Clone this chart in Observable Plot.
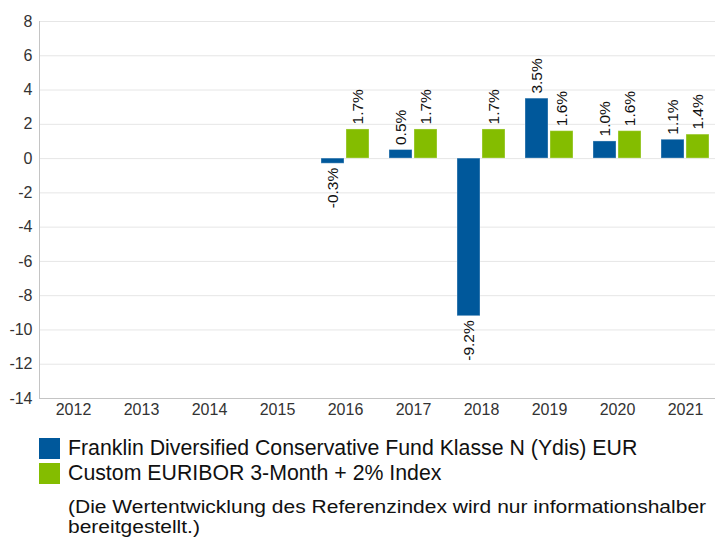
<!DOCTYPE html>
<html>
<head>
<meta charset="utf-8">
<script src="https://cdn.jsdelivr.net/npm/d3@7"></script>
<script src="https://cdn.jsdelivr.net/npm/@observablehq/plot@0.6"></script>
<style>
  html, body { margin: 0; padding: 0; background: #fff; overflow: hidden; }
  body { font-family: "Liberation Sans", Arial, sans-serif; width: 715px; height: 538px; position: relative; }
  #chart svg { display: block; }
  .legend { margin-left: 39px; padding-top: 8px; }
  .legend .item { display: flex; align-items: center; height: 25px; font-size: 21.3px; color: #111; white-space: nowrap; }
  .legend .sw { width: 21px; height: 21px; margin-right: 8px; flex: none; }
  .caption { margin-left: 68px; margin-top: 11px; font-size: 17.5px; line-height: 20px; color: #111; white-space: nowrap;
             transform: scaleX(1.2); transform-origin: 0 0; }
</style>
</head>
<body>
<div id="chart"></div>
<div class="legend" id="legend"></div>
<div class="caption" id="caption"></div>
<script>
const years = [2012, 2013, 2014, 2015, 2016, 2017, 2018, 2019, 2020, 2021];
const seriesNames = [
  "Franklin Diversified Conservative Fund Klasse N (Ydis) EUR",
  "Custom EURIBOR 3-Month + 2% Index"
];
const fundReturns  = [null, null, null, null, -0.3, 0.5, -9.2, 3.5, 1.0, 1.1];
const indexReturns = [null, null, null, null, 1.7, 1.7, 1.7, 1.6, 1.6, 1.4];
const seriesColors = ["#00589b", "#84bd00"];
const yTicks = [-14, -12, -10, -8, -6, -4, -2, 0, 2, 4, 6, 8];
const captionLines = [
  "(Die Wertentwicklung des Referenzindex wird nur informationshalber",
  "bereitgestellt.)"
];

const rows = [];
years.forEach((yr, i) => {
  [fundReturns, indexReturns].forEach((arr, s) => {
    rows.push({year: yr, series: seriesNames[s], value: arr[i]});
  });
});
const valid = rows.filter(d => d.value != null);
const fmt = d => d.value.toFixed(1) + "%";

const plot = Plot.plot({
  width: 715,
  height: 428,
  marginLeft: 38,
  marginRight: -4,
  marginTop: 21,
  marginBottom: 30,
  style: {fontFamily: '"Liberation Sans", Arial, sans-serif', fontSize: "16px", color: "#333", background: "#fff"},
  fx: {domain: years, padding: 0, label: null, tickSize: 0, tickPadding: 5, axis: "bottom", tickFormat: d => String(d)},
  x: {domain: seriesNames, axis: null, paddingInner: 0.08, paddingOuter: 0.4},
  y: {domain: [-14, 8], ticks: yTicks, label: null, tickSize: 0, tickPadding: 7, tickFormat: d => String(d)},
  color: {domain: seriesNames, range: seriesColors},
  marks: [
    Plot.gridY(yTicks, {stroke: "#e6e6e6", strokeOpacity: 1}),
    Plot.ruleY([-14], {stroke: "#c4c4c4"}),
    Plot.frame({anchor: "left", stroke: "#c4c4c4", facetAnchor: "left"}),
    Plot.barY(rows, {fx: "year", x: "series", y: "value", fill: "series", stroke: "#ffffff", strokeOpacity: 0.35, strokeWidth: 1}),
    Plot.text(valid.filter(d => d.value >= 0), {fx: "year", x: "series", y: "value", text: fmt, rotate: -90, textAnchor: "start", dy: -5, fontSize: 15.5, fill: "#111"}),
    Plot.text(valid.filter(d => d.value < 0), {fx: "year", x: "series", y: "value", text: fmt, rotate: -90, textAnchor: "end", dy: 4, fontSize: 15.5, fill: "#111"})
  ]
});
document.getElementById("chart").appendChild(plot);

const legend = document.getElementById("legend");
seriesNames.forEach((name, i) => {
  const item = document.createElement("div");
  item.className = "item";
  const sw = document.createElement("span");
  sw.className = "sw";
  sw.style.background = seriesColors[i];
  item.appendChild(sw);
  item.appendChild(document.createTextNode(name));
  legend.appendChild(item);
});
const cap = document.getElementById("caption");
captionLines.forEach((line, i) => {
  if (i) cap.appendChild(document.createElement("br"));
  cap.appendChild(document.createTextNode(line));
});
</script>
</body>
</html>
